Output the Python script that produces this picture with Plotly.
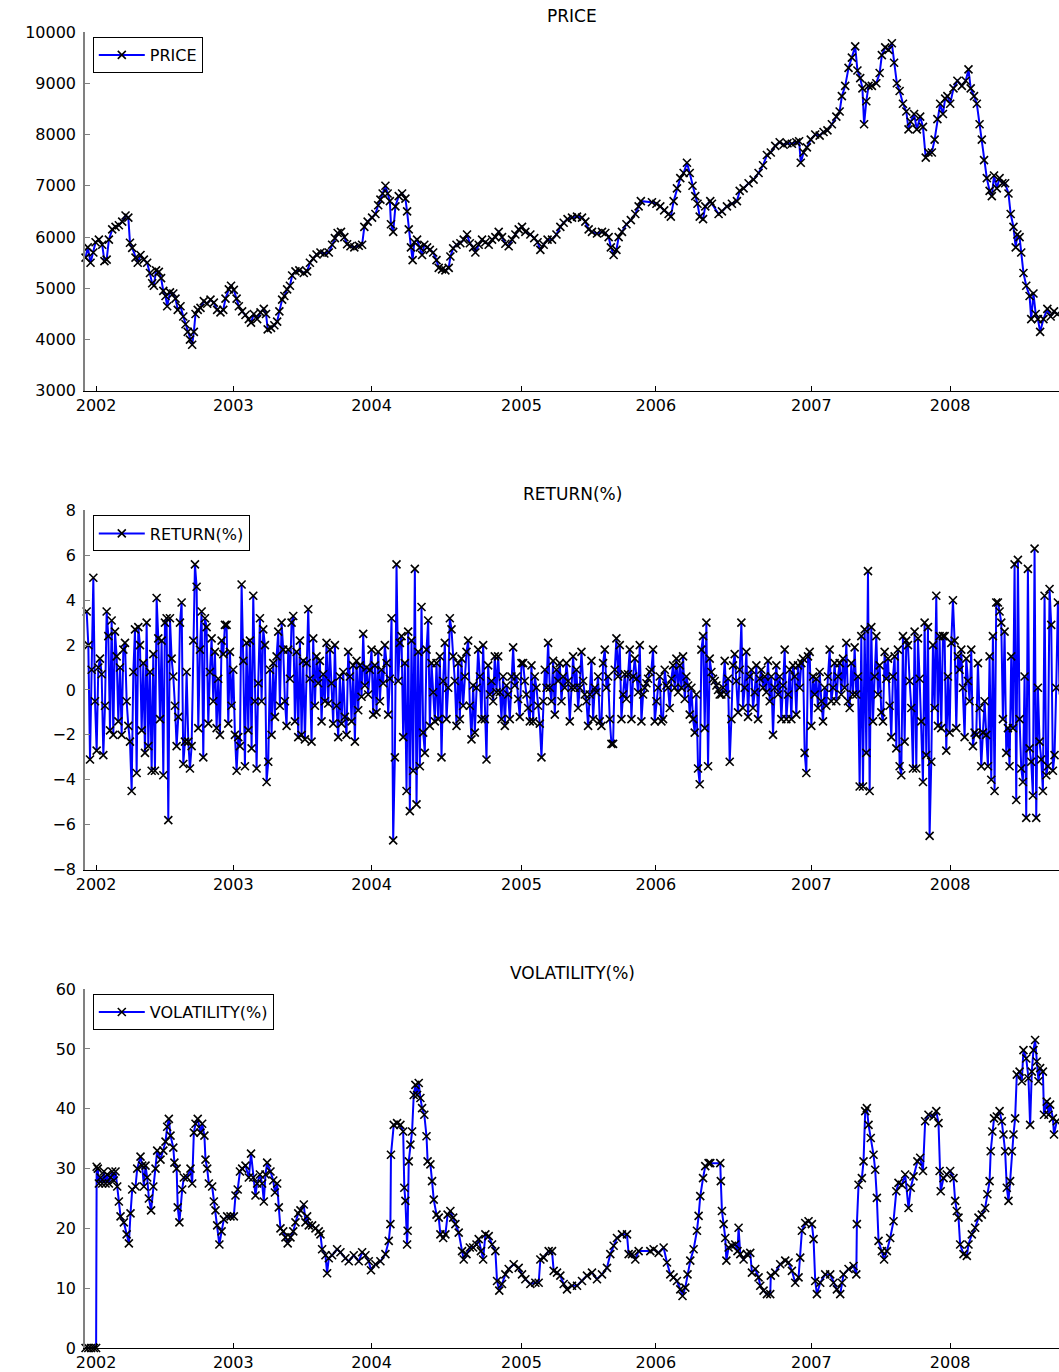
import numpy as np
import plotly.graph_objects as go
from plotly.subplots import make_subplots

# ---- data -------------------------------------------------------------
# x is the trading-day number of each observation (day 0 = first session)

PRICE_DAY = [
    0, 4, 9, 14, 18, 24, 30, 34, 38, 42, 48, 54, 60, 66, 72, 77, 80, 84, 90, 94,
    99, 105, 111, 116, 120, 123, 127, 132, 136, 140, 144, 147, 152, 158, 162, 166, 171, 176, 180, 184,
    188, 192, 195, 198, 202, 207, 213, 219, 225, 231, 237, 243, 248, 252, 258, 262, 267, 272, 276, 282,
    288, 294, 298, 303, 309, 315, 321, 325, 328, 334, 340, 345, 349, 354, 358, 363, 368, 372, 378, 385,
    393, 399, 404, 410, 416, 423, 430, 438, 444, 449, 454, 460, 466, 471, 477, 484, 492, 498, 502, 508,
    516, 522, 527, 531, 535, 540, 544, 548, 550, 554, 558, 564, 570, 576, 579, 582, 586, 589, 592, 597,
    602, 606, 610, 615, 620, 626, 632, 636, 642, 648, 654, 657, 662, 668, 675, 681, 687, 692, 698, 702,
    708, 714, 720, 726, 732, 738, 744, 750, 756, 762, 768, 774, 780, 786, 792, 801, 808, 814, 819, 825,
    832, 840, 848, 855, 861, 868, 876, 885, 894, 900, 906, 912, 921, 930, 936, 942, 946, 951, 956, 960,
    966, 974, 982, 990, 996, 1000, 1020, 1028, 1035, 1042, 1050, 1054, 1059, 1065, 1071, 1077, 1083, 1088, 1093, 1098,
    1102, 1106, 1112, 1116, 1125, 1128, 1140, 1146, 1155, 1164, 1173, 1178, 1185, 1194, 1203, 1212, 1220, 1227, 1234, 1242,
    1250, 1257, 1264, 1272, 1280, 1285, 1288, 1293, 1299, 1306, 1314, 1322, 1329, 1336, 1344, 1352, 1358, 1362, 1368, 1374,
    1380, 1386, 1390, 1395, 1399, 1402, 1406, 1410, 1416, 1424, 1430, 1434, 1440, 1446, 1452, 1456, 1461, 1466, 1472, 1478,
    1482, 1486, 1492, 1497, 1503, 1508, 1513, 1518, 1524, 1529, 1534, 1539, 1544, 1548, 1552, 1557, 1563, 1570, 1578, 1585,
    1590, 1594, 1600, 1605, 1610, 1614, 1618, 1623, 1628, 1632, 1636, 1641, 1646, 1651, 1656, 1662, 1666, 1671, 1675, 1678,
    1682, 1685, 1689, 1694, 1700, 1703, 1707, 1711, 1715, 1719, 1725, 1732, 1738, 1744, 1750,
]
PRICE = [
    5600, 5800, 5500, 5700, 5900, 5950, 5850, 5530, 5560, 5950, 6150, 6200, 6230, 6300, 6420, 6380, 5890, 5790, 5600, 5500,
    5650, 5560, 5500, 5300, 5100, 5050, 5350, 5320, 5200, 4950, 4850, 4650, 4920, 4900, 4800, 4580, 4650, 4450, 4300, 4150,
    4000, 3900, 4150, 4500, 4580, 4620, 4750, 4700, 4780, 4720, 4580, 4530, 4580, 4800, 4980, 5050, 4970, 4800, 4650, 4550,
    4480, 4400, 4330, 4500, 4400, 4530, 4600, 4500, 4200, 4230, 4280, 4350, 4550, 4780, 4850, 4980, 5050, 5250, 5330, 5350,
    5300, 5330, 5500, 5580, 5660, 5700, 5680, 5700, 5850, 5980, 6080, 6100, 6000, 5860, 5820, 5800, 5830, 5850, 6200, 6300,
    6380, 6450, 6620, 6730, 6850, 7000, 6850, 6700, 6250, 6100, 6600, 6800, 6850, 6750, 6500, 6150, 5800, 5550, 5900, 5950,
    5800, 5650, 5850, 5800, 5750, 5700, 5550, 5400, 5370, 5350, 5400, 5620, 5780, 5850, 5880, 5950, 6050, 5880, 5800, 5700,
    5850, 5950, 5900, 5850, 5950, 6000, 6100, 6000, 5870, 5820, 5950, 6050, 6150, 6200, 6100, 6050, 5980, 5900, 5750, 5850,
    5950, 5950, 6050, 6200, 6280, 6350, 6380, 6400, 6380, 6300, 6150, 6100, 6070, 6100, 6080, 6000, 5800, 5650, 5750, 6000,
    6100, 6250, 6330, 6450, 6600, 6700, 6680, 6650, 6600, 6520, 6450, 6400, 6700, 6950, 7150, 7250, 7450, 7250, 7000, 6800,
    6650, 6400, 6350, 6600, 6700, 6650, 6450, 6500, 6600, 6650, 6700, 6900, 6950, 7050, 7120, 7250, 7400, 7600, 7650, 7780,
    7850, 7800, 7830, 7820, 7850, 7870, 7450, 7650, 7750, 7900, 8000, 7980, 8050, 8080, 8200, 8350, 8450, 8750, 8950, 9300,
    9500, 9720, 9250, 9100, 8900, 8200, 8650, 8950, 8950, 9000, 9200, 9550, 9700, 9650, 9780, 9400, 9000, 8850, 8600, 8450,
    8100, 8250, 8400, 8100, 8350, 8150, 7550, 7650, 7650, 7900, 8300, 8600, 8400, 8700, 8750, 8600, 8900, 9050, 8950, 9050,
    9270, 8900, 8750, 8600, 8200, 7900, 7500, 7150, 6900, 6800, 7200, 6950, 7150, 7050, 7050, 6850, 6450, 6200, 5800, 6050,
    6000, 5700, 5300, 5050, 4850, 4400, 4900, 4500, 4400, 4150, 4400, 4600, 4450, 4550, 4500,
]

# daily returns are listed every RET_STEP sessions starting at RET_FIRST_DAY
RET_FIRST_DAY = 2
RET_STEP = 3
RETURN = [
    3.5, 2.0, -3.1, 0.9, 5.0, -0.5, -2.7, 1.0, 1.4, 0.7,
    -2.9, -0.7, 3.5, 2.4, -1.8, 3.1, -2.0, 2.6, 1.5, -1.4,
    1.0, -2.0, 1.8, 2.1, -0.5, -1.6, -2.3, -4.5, 0.8, 2.7,
    -3.7, 2.8, 2.0, -1.8, 1.2, -2.8, 3.0, -2.5, 0.8, -3.6,
    1.6, -3.6, 4.1, 2.3, -1.3, 2.2, -3.8, 3.0, 3.2, -5.8,
    3.2, 1.4, 0.6, -0.7, -2.5, -1.2, 3.0, 3.9, -3.3, -2.3,
    0.8, -2.3, -3.5, -2.5, 2.2, 5.6, 4.6, -1.7, 1.8, 3.5,
    -3.0, 3.2, 2.8, -1.5, 0.8, 2.3, -0.5, 1.7, -1.7, 0.5,
    -2.0, 2.2, 1.6, 2.9, 2.9, -1.5, 1.7, -0.7, 0.9, -2.0,
    -3.6, -2.1, -2.5, 4.7, 1.3, -3.4, 2.1, -1.8, 2.2, -2.6,
    4.2, -0.5, -3.5, 0.3, 3.2, -0.5, 2.7, 2.0, -4.1, -3.2,
    0.9, -2.0, 1.2, -1.2, 1.5, 2.6, -0.7, 3.0, 1.8, -0.5,
    -1.6, 1.8, 0.5, 3.0, 3.3, -1.4, 1.7, -2.1, 2.2, -2.0,
    1.3, -2.2, 1.2, 3.6, 0.5, -2.3, 2.3, -0.7, 1.5, 0.3,
    1.3, -1.4, 0.7, -0.5, 2.1, -0.6, 1.8, 0.3, -1.5, 2.0,
    -0.7, -2.1, 0.6, -1.5, 0.8, -1.2, -2.0, 1.7, 0.6, -1.4,
    1.1, -2.3, 1.3, -0.9, 1.1, -0.3, 2.5, 0.2, 1.0, -0.2,
    0.9, 1.8, -1.1, 1.1, -1.0, 1.7, -0.5, 0.9,
    0.3, 2.0, 1.2, -1.1, 0.5, 3.2, -6.7, -3.0, 5.6, 0.4,
    2.1, 2.4, -2.1, 1.2, -4.5, 2.6, -5.4, 2.2, -3.6, 5.4,
    -5.1, 1.7, -3.4, 3.7, -1.9, -2.8, 1.8, 3.1, -1.6, 1.2,
    -0.1, -1.4, 1.2, -1.3, 1.5, -3.0, 0.4, 2.1, -1.3, 0.1,
    3.2, 2.7, 1.5, 0.4, -1.6, 1.2, -1.3, 1.4, -0.7, 0.6,
    1.7, 2.2, -0.7, -2.2, 0.2, -1.9, 0.1, 1.8, 0.6, -1.3,
    2.0, -1.3, -3.1, 1.1, -0.2, 0.4, -0.5, 1.5, -0.1, 1.5,
    -0.1, -1.3, 0.6, -1.6, 0.2, -0.2, -1.3, 0.6, 1.9, 0.2,
    0.6, -0.4, -1.2, 1.2, 1.2, 0.4, -0.2, -0.8, -1.4, 1.1,
    -1.4, 0.6, 0.1, -0.7, -1.5, -3.0, -0.5, 0.9, 0.1, 2.1,
    0.1, -0.5, 1.3, -1.1, 0.9, 0.4, 1.2, -0.5, 0.6, 0.1,
    1.2, 0.4, -1.4, 0.1, 1.5, 0.1, 0.9, -0.8, 0.1, 1.7,
    0.4, -0.2, -0.5, -1.6, -0.2, 1.3, -1.3, 0.1, -0.1, 0.6,
    -1.4, -1.6, 1.2, 1.8, 0.1, 0.6, -1.3, -2.4, -2.4, 0.9,
    2.3, 0.6, 2.0, -1.3, -0.2, 0.7, -0.4, 0.7, 1.8, -1.3,
    0.6, 1.4, 0.5, -0.1, 2.0, -1.4, -0.2, 0.1, 0.3, 0.5,
    0.8, 0.9, 1.8, -1.4, -0.5, 0.1, 0.6, -1.4, -1.3, 0.9,
    0.2, 0.1, -0.8, 0.5, 1.1, 0.1, 1.4, -0.1, 1.1, 0.1,
    1.5, -0.4, 0.6, 0.2, -1.1, 0.1, -1.3, -1.9, -0.2, -3.5,
    -4.2, 1.8,
    2.4, -1.7, 3.0, -3.4, 1.4, 0.8, 0.5, 0.4, 0.2, 0.0,
    -0.2, -0.2, 0.1, 1.3, -0.2, 0.5, -3.2, -1.3, 1.1, 1.6,
    0.4, -1.0, 0.9, 3.0, -0.8, 0.1, 1.7, -1.2, 0.6, 0.9,
    -0.8, -0.1, 1.1, -1.3, 0.5, 0.9, 0.1, 0.6, -0.1, 1.3,
    -0.5, 0.6, -2.0, 0.1, 1.1, -0.2, 0.6, -1.3, 0.2, 1.8,
    -1.3, -0.2, 0.9, -1.3, 1.1, 0.6, -1.1, 1.1, 0.1, 1.2,
    1.4, -2.8, -3.7, 1.5, 1.7, -1.6, 0.6, -0.2, 0.5, -0.8,
    0.8, -0.5, -1.4, 0.1, -0.7, 0.6, 1.8, -0.5, 0.1, 1.2,
    -0.5, 0.6, 1.2, -0.2, 1.4, 0.1, 2.1, -0.5, -0.8, 1.2,
    -0.2, 1.9, -0.2, 0.6, -4.3, 2.4, -4.3, 2.7, -2.8, 5.3,
    -4.5, 2.8, -1.4, 0.6, 2.4, -0.2, 1.1, -1.0, -1.4, 1.7,
    0.5, 1.4, -0.7, -2.1, 0.6, 1.5, -2.6, 1.8, -3.4, -3.8,
    2.4, -2.3, 2.2, 2.0, 0.4, -0.8, -3.5, 2.6, -3.5, 2.3,
    0.5, -1.4, -4.1, 3.0, -2.9, 2.8, -6.5, -3.2, 2.0, -0.8,
    4.2, -1.6, 2.4, -1.7, 2.4, 2.4, -2.7, 0.6, -1.9, 2.1,
    4.0, 2.2, -1.7, 1.5, 0.9, 1.8, 0.1, -2.1, 1.4, 0.4,
    -0.5, 1.8, -2.5, -1.9, -2.0, 1.2, -0.8, -3.4, -1.9, -0.5,
    -2.0, -3.4, 1.5, -4.0, 2.4, -4.5, 3.9, 3.9, 3.5, 3.0,
    -1.3, 2.6, -2.8, -1.7, -3.4, 1.5, -1.7, 5.6, -4.9, 5.8,
    -1.3, -3.5, -4.1, 0.6, -5.7, 5.4, -2.6, -3.2, -4.7, 6.3,
    -5.7, 0.1, -2.3, -3.1, -4.5, 4.2, -3.8, -3.4, 4.5, 2.9,
    -3.6, -2.9, 0.1, 3.9, -0.2, 0.5,
]

VOL_DAY = [
    0, 5, 10, 15, 19, 20, 22, 24, 27, 30, 33, 36, 39, 42, 45, 48, 51, 54, 57, 60,
    63, 69, 74, 78, 81, 84, 90, 93, 99, 102, 105, 108, 111, 114, 118, 122, 126, 129, 135, 140,
    144, 147, 150, 153, 158, 160, 164, 166, 169, 174, 177, 183, 189, 192, 195, 198, 202, 207, 210, 214,
    216, 219, 222, 228, 231, 234, 237, 241, 245, 249, 255, 261, 267, 270, 274, 278, 282, 288, 294, 298,
    302, 306, 309, 314, 318, 321, 324, 327, 333, 338, 341, 345, 348, 351, 356, 360, 364, 369, 374, 378,
    383, 387, 393, 396, 399, 402, 408, 414, 420, 423, 426, 432, 435, 438, 444, 453, 459, 468, 474, 483,
    492, 498, 504, 510, 514, 522, 531, 540, 546, 549, 550, 555, 561, 567, 572, 574, 576, 579, 580, 582,
    585, 588, 591, 594, 597, 600, 603, 606, 610, 614, 616, 621, 624, 627, 632, 636, 639, 644, 648, 652,
    657, 662, 666, 672, 678, 681, 686, 692, 698, 704, 708, 712, 716, 720, 726, 732, 738, 741, 745, 750,
    756, 762, 771, 780, 786, 792, 801, 810, 816, 819, 825, 834, 840, 843, 849, 855, 861, 867, 876, 885,
    894, 903, 912, 921, 930, 939, 945, 951, 957, 966, 975, 978, 984, 990, 996, 1017, 1023, 1032, 1041, 1047,
    1053, 1059, 1065, 1071, 1075, 1080, 1084, 1089, 1095, 1101, 1104, 1107, 1112, 1116, 1122, 1125, 1143, 1144, 1146, 1149,
    1152, 1154, 1158, 1164, 1170, 1174, 1176, 1179, 1185, 1191, 1197, 1200, 1206, 1212, 1215, 1221, 1227, 1233, 1234, 1242,
    1251, 1260, 1266, 1272, 1278, 1284, 1287, 1290, 1296, 1302, 1308, 1311, 1314, 1317, 1323, 1332, 1341, 1347, 1353, 1359,
    1362, 1365, 1374, 1383, 1388, 1389, 1392, 1398, 1401, 1404, 1407, 1410, 1414, 1419, 1422, 1425, 1428, 1434, 1438, 1443,
    1449, 1455, 1460, 1464, 1470, 1476, 1482, 1486, 1491, 1498, 1503, 1508, 1512, 1518, 1527, 1532, 1536, 1538, 1540, 1545,
    1551, 1557, 1563, 1566, 1569, 1572, 1575, 1581, 1587, 1590, 1596, 1602, 1608, 1614, 1620, 1624, 1628, 1630, 1633, 1636,
    1641, 1646, 1650, 1653, 1656, 1659, 1662, 1665, 1668, 1671, 1674, 1677, 1682, 1686, 1689, 1694, 1698, 1701, 1704, 1707,
    1710, 1713, 1716, 1719, 1724, 1726, 1731, 1734, 1737, 1742, 1744, 1749,
]
VOL = [
    0, 0, 0, 0, 0, 30.3, 30.0, 27.5, 28.5, 27.5, 29.5, 27.5, 29.0, 27.5, 28.5, 29.5, 28.0, 29.5, 27.0, 24.5,
    22.0, 21.0, 19.0, 17.5, 22.5, 26.5, 27.0, 30.0, 32.0, 30.5, 27.0, 30.5, 28.5, 25.0, 23.0, 27.0, 30.0, 33.0, 31.5, 33.0,
    34.5, 37.0, 38.3, 35.5, 33.5, 31.0, 30.0, 23.5, 21.0, 26.5, 28.5, 28.5, 30.0, 27.5, 36.0, 37.5, 38.3, 36.0, 37.5, 35.5,
    31.5, 30.0, 27.5, 27.0, 24.5, 23.0, 20.5, 17.3, 19.5, 21.5, 22.0, 22.0, 22.0, 25.5, 26.5, 29.5, 30.0, 30.5, 28.5, 32.5,
    28.5, 25.5, 27.5, 29.0, 27.5, 24.5, 29.0, 31.0, 29.5, 28.0, 26.0, 27.5, 23.5, 20.0, 19.5, 18.5, 17.5, 18.5, 19.5, 21.0,
    22.5, 23.0, 24.0, 21.0, 22.0, 20.5, 20.5, 20.0, 19.5, 19.0, 16.5, 15.5, 12.5, 15.0, 15.5, 16.5, 16.0, 15.0, 14.5, 15.5,
    14.5, 16.0, 15.5, 14.5, 13.0, 14.0, 14.5, 15.7, 17.9, 20.7, 32.3, 37.3, 37.6, 37.3, 36.2, 26.8, 24.6, 17.3, 19.6, 31.2,
    34.0, 36.2, 42.3, 44.0, 42.3, 44.3, 41.8, 40.1, 39.0, 35.4, 31.2, 30.7, 27.9, 24.8, 22.3, 21.8, 19.0, 18.4, 19.0, 22.3,
    22.9, 21.8, 20.7, 19.3, 16.2, 14.8, 15.7, 16.8, 16.8, 17.3, 18.2, 16.2, 14.8, 19.0, 18.7, 17.3, 16.2, 11.2, 9.6, 10.7,
    12.3, 13.2, 14.0, 13.4, 12.3, 11.5, 10.7, 10.9, 10.9, 14.8, 15.1, 16.2, 16.2, 12.9, 12.6, 12.1, 10.7, 9.8, 10.4, 10.4,
    11.2, 12.1, 12.6, 11.5, 12.3, 13.4, 15.7, 17.1, 18.4, 19.0, 19.0, 15.7, 15.7, 14.8, 16.2, 16.2, 16.5, 15.9, 16.8, 14.3,
    12.3, 11.8, 11.2, 9.8, 8.7, 10.1, 12.3, 14.6, 16.5, 19.6, 22.1, 25.4, 28.4, 30.4, 30.9, 30.9, 30.9, 27.9, 22.9, 20.7,
    18.4, 14.6, 16.8, 17.1, 17.3, 16.2, 20.1, 15.7, 14.8, 15.7, 15.9, 12.6, 13.2, 11.8, 10.4, 9.6, 9.0, 9.0, 12.1, 12.6,
    14.0, 14.6, 14.3, 12.9, 10.9, 11.8, 15.1, 19.6, 20.9, 21.2, 20.7, 18.2, 11.2, 9.0, 10.9, 12.3, 12.3, 10.9, 9.8, 9.0,
    10.9, 12.3, 13.2, 13.7, 12.3, 20.7, 27.3, 28.4, 31.2, 39.6, 40.1, 37.3, 35.1, 32.3, 29.8, 25.1, 17.9, 16.2, 14.8, 16.2,
    18.4, 21.2, 26.2, 27.6, 27.3, 29.0, 23.4, 26.8, 28.7, 31.2, 31.8, 29.6, 37.9, 39.0, 38.7, 39.6, 37.6, 29.6, 26.2, 28.4,
    29.0, 29.6, 28.4, 24.6, 22.9, 21.8, 17.3, 15.7, 15.4, 17.3, 19.0, 20.1, 21.8, 22.3, 23.4, 25.7, 27.9, 32.9, 36.2, 38.4,
    38.7, 39.6, 37.9, 35.7, 32.9, 26.8, 24.6, 27.9, 32.9, 35.7, 38.4, 45.7, 46.2, 44.6, 49.8, 48.4, 45.1, 37.3, 46.2, 49.8,
    51.5, 47.9, 44.6, 46.8, 46.2, 39.0, 41.2, 39.0, 40.7, 38.4, 35.7, 37.9,
]

YEAR_DAY = [19, 266, 515, 785, 1027, 1307, 1557]
YEAR_LABEL = ["2002", "2003", "2004", "2005", "2006", "2007", "2008"]

# ---- figure -----------------------------------------------------------
ret_day = RET_FIRST_DAY + RET_STEP * np.arange(len(RETURN))

FONT = "DejaVu Sans"
LINE_BLUE = "#0000ff"

fig = make_subplots(rows=3, cols=1)

panels = [
    ("PRICE", PRICE_DAY, PRICE, "legend", [3000, 10000], 1000),
    ("RETURN(%)", ret_day, RETURN, "legend2", [-8, 8], 2),
    ("VOLATILITY(%)", VOL_DAY, VOL, "legend3", [0, 60], 10),
]
domains = [[0.7273, 1.0], [0.3636, 0.6364], [0.0, 0.2727]]

for i, (name, xs, ys, leg, yr, dt) in enumerate(panels, start=1):
    fig.add_trace(
        go.Scatter(
            x=xs, y=ys, name=name, mode="lines+markers",
            line=dict(color=LINE_BLUE, width=2),
            marker=dict(symbol="x-thin", size=8, color="black",
                        line=dict(color="black", width=1.6)),
            legend=leg, showlegend=True, cliponaxis=False,
        ),
        row=i, col=1,
    )
    fig.update_xaxes(
        range=[-1, 1753], tickmode="array", tickvals=YEAR_DAY, ticktext=YEAR_LABEL,
        ticks="inside", ticklen=5, tickcolor="black", showline=True,
        linecolor="black", linewidth=1, showgrid=False, zeroline=False,
        tickfont=dict(family=FONT, size=16, color="black"),
        row=i, col=1,
    )
    fig.update_yaxes(
        range=yr, dtick=dt, tick0=yr[0], ticks="inside", ticklen=5,
        tickcolor="#808080", showline=True, linecolor="#808080", linewidth=1.5,
        showgrid=False, zeroline=False, ticklabelstandoff=4,
        tickformat="d", exponentformat="none",
        tickfont=dict(family=FONT, size=16, color="black"),
        domain=domains[i - 1], row=i, col=1,
    )
    # panel heading
    fig.add_annotation(
        text=name, xref="paper", yref="paper", x=0.5, y=domains[i - 1][1],
        xanchor="center", yanchor="middle", yshift=16, showarrow=False,
        font=dict(family=FONT, size=17, color="black"),
    )

legend_style = dict(
    x=0.008, xanchor="left", yanchor="top", bgcolor="white",
    bordercolor="black", borderwidth=1,
    font=dict(family=FONT, size=16, color="black"),
    tracegroupgap=0, itemwidth=46,
)
fig.update_layout(
    width=1059, height=1372,
    margin=dict(l=85, r=0, t=32, b=20),
    paper_bgcolor="white", plot_bgcolor="white",
    legend=dict(y=0.9962, **legend_style),
    legend2=dict(y=0.6326, **legend_style),
    legend3=dict(y=0.2689, **legend_style),
)

fig.write_html("out.html")
